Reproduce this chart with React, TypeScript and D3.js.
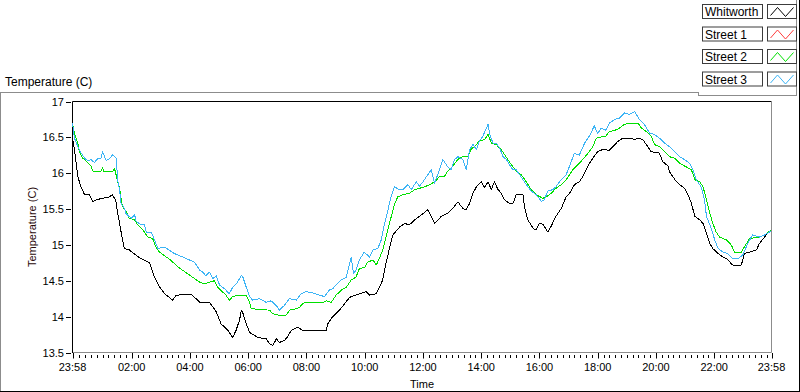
import React from 'react';
import * as d3 from 'd3';

// ---- data (minutes after 23:58, temperature °C) ----
const startTime = new Date(2000, 0, 1, 23, 58);
const endTime = new Date(2000, 0, 2, 23, 58);
const yTickValues = [13.5, 14, 14.5, 15, 15.5, 16, 16.5, 17];
const majorTickTimes = ['23:58', '02:00', '04:00', '06:00', '08:00', '10:00', '12:00', '14:00', '16:00', '18:00', '20:00', '22:00', '23:58'];
const seriesNames = ['Whitworth', 'Street 1', 'Street 2', 'Street 3'];
const seriesColors = ['#000000', '#ff3c3c', '#00e000', '#3cb4f5'];

const whitworth: [number, number][] = [
  [0, 16.5], [4, 16.33], [11, 15.95], [18, 15.8], [25, 15.7], [35, 15.7], [42, 15.6], [49, 15.63], [62, 15.65],
  [76, 15.67], [82, 15.7], [89, 15.62], [93, 15.45], [97, 15.3], [103, 15.07], [107, 14.95], [117, 14.93],
  [138, 14.82], [159, 14.75], [169, 14.55], [179, 14.42], [190, 14.32], [206, 14.23], [214, 14.3], [241, 14.31],
  [247, 14.3], [262, 14.2], [282, 14.2], [296, 14.07], [306, 13.9], [320, 13.81], [330, 13.71], [337, 13.81],
  [344, 13.95], [348, 14.09], [351, 14.05], [358, 13.9], [365, 13.78], [382, 13.71], [399, 13.69], [406, 13.62],
  [413, 13.6], [420, 13.69], [426, 13.64], [437, 13.67], [443, 13.72], [451, 13.81], [464, 13.85], [474, 13.81],
  [523, 13.81], [526, 13.9], [536, 14.0], [550, 14.09], [571, 14.27], [584, 14.3], [605, 14.35], [612, 14.3],
  [626, 14.32], [639, 14.51], [646, 14.75], [653, 14.95], [660, 15.14], [674, 15.25], [684, 15.3], [694, 15.28],
  [705, 15.35], [715, 15.4], [732, 15.49], [739, 15.4], [746, 15.3], [760, 15.4], [773, 15.44], [787, 15.54],
  [794, 15.6], [804, 15.51], [811, 15.49], [818, 15.58], [825, 15.72], [832, 15.81], [842, 15.88], [849, 15.8],
  [856, 15.88], [863, 15.77], [869, 15.88], [876, 15.78], [883, 15.72], [890, 15.63], [900, 15.58], [907, 15.57],
  [914, 15.7], [928, 15.7], [931, 15.54], [938, 15.35], [949, 15.23], [955, 15.21], [962, 15.3], [969, 15.29],
  [979, 15.18], [986, 15.26], [996, 15.4], [1007, 15.51], [1017, 15.67], [1024, 15.72], [1034, 15.84], [1044, 15.88],
  [1051, 15.95], [1058, 16.05], [1065, 16.14], [1072, 16.21], [1082, 16.3], [1092, 16.33], [1106, 16.32],
  [1113, 16.37], [1123, 16.44], [1134, 16.49], [1147, 16.49], [1158, 16.47], [1165, 16.49], [1175, 16.47],
  [1185, 16.37], [1192, 16.3], [1209, 16.28], [1216, 16.16], [1227, 16.1], [1230, 16.02], [1241, 15.91],
  [1251, 15.84], [1261, 15.79], [1268, 15.7], [1275, 15.58], [1282, 15.4], [1292, 15.35], [1299, 15.3],
  [1306, 15.16], [1313, 15.02], [1319, 14.95], [1330, 14.88], [1340, 14.83], [1347, 14.81], [1360, 14.72],
  [1378, 14.72], [1384, 14.88], [1395, 14.9], [1409, 14.93], [1415, 15.02], [1426, 15.11], [1433, 15.18], [1440, 15.2],
];

const street1: [number, number][] = [];

const street2: [number, number][] = [
  [0, 16.7], [4, 16.56], [11, 16.42], [14, 16.3], [21, 16.21], [28, 16.17], [38, 16.1], [42, 16.03], [59, 16.03],
  [62, 16.08], [64, 16.03], [83, 16.03], [86, 16.07], [88, 16.03], [93, 15.88], [97, 15.79], [100, 15.65],
  [103, 15.54], [110, 15.47], [117, 15.37], [128, 15.35], [134, 15.28], [145, 15.21], [155, 15.11], [165, 15.09],
  [172, 14.97], [179, 14.9], [200, 14.8], [220, 14.68], [241, 14.58], [262, 14.48], [272, 14.46], [282, 14.48],
  [292, 14.5], [299, 14.41], [310, 14.34], [316, 14.3], [323, 14.23], [330, 14.28], [344, 14.3], [358, 14.3],
  [365, 14.2], [368, 14.11], [389, 14.1], [406, 14.09], [413, 14.04], [426, 14.02], [440, 14.02], [447, 14.09],
  [461, 14.11], [468, 14.13], [474, 14.18], [481, 14.2], [516, 14.2], [523, 14.22], [533, 14.2], [543, 14.3],
  [554, 14.37], [564, 14.41], [574, 14.51], [584, 14.55], [591, 14.67], [602, 14.69], [608, 14.76], [619, 14.79],
  [626, 14.72], [632, 14.81], [639, 14.93], [646, 15.11], [653, 15.3], [663, 15.56], [670, 15.67], [680, 15.7],
  [694, 15.72], [705, 15.77], [715, 15.79], [725, 15.81], [736, 15.84], [746, 15.88], [756, 15.95], [766, 15.95],
  [773, 16.03], [780, 16.07], [790, 16.16], [797, 16.21], [804, 16.23], [814, 16.23], [821, 16.33], [832, 16.4],
  [838, 16.45], [849, 16.47], [856, 16.54], [863, 16.42], [873, 16.4], [883, 16.33], [893, 16.23], [904, 16.12],
  [914, 16.03], [924, 15.98], [935, 15.88], [945, 15.77], [955, 15.7], [969, 15.65], [976, 15.67], [986, 15.72],
  [996, 15.79], [1007, 15.84], [1017, 15.91], [1031, 16.05], [1041, 16.12], [1051, 16.19], [1062, 16.28],
  [1072, 16.37], [1079, 16.49], [1099, 16.52], [1106, 16.58], [1123, 16.61], [1137, 16.68], [1147, 16.7],
  [1165, 16.7], [1172, 16.63], [1182, 16.58], [1192, 16.52], [1199, 16.4], [1209, 16.37], [1220, 16.3],
  [1230, 16.23], [1240, 16.21], [1251, 16.14], [1261, 16.1], [1275, 16.05], [1282, 15.91], [1292, 15.88],
  [1299, 15.81], [1306, 15.63], [1313, 15.44], [1319, 15.3], [1326, 15.18], [1333, 15.11], [1347, 15.07],
  [1357, 15.0], [1364, 14.9], [1378, 14.9], [1384, 14.97], [1395, 15.09], [1415, 15.11], [1426, 15.14],
  [1433, 15.18], [1440, 15.2],
];

const street3: [number, number][] = [
  [0, 16.7], [4, 16.49], [11, 16.37], [18, 16.28], [25, 16.21], [32, 16.17], [38, 16.19], [45, 16.15], [52, 16.2],
  [59, 16.21], [62, 16.3], [69, 16.18], [76, 16.2], [83, 16.26], [90, 16.21], [93, 15.91], [97, 15.77], [100, 15.58],
  [107, 15.51], [110, 15.44], [121, 15.37], [128, 15.42], [131, 15.33], [141, 15.28], [148, 15.28], [152, 15.18],
  [162, 15.18], [169, 15.07], [176, 14.95], [190, 14.97], [210, 14.88], [231, 14.82], [251, 14.76], [262, 14.65],
  [268, 14.62], [275, 14.57], [282, 14.62], [289, 14.53], [296, 14.57], [303, 14.44], [313, 14.39], [323, 14.32],
  [330, 14.41], [340, 14.48], [348, 14.58], [351, 14.55], [358, 14.41], [365, 14.28], [371, 14.23], [385, 14.25],
  [399, 14.2], [409, 14.22], [416, 14.18], [423, 14.13], [426, 14.09], [437, 14.16], [447, 14.25], [461, 14.23],
  [471, 14.32], [481, 14.35], [495, 14.33], [509, 14.3], [519, 14.28], [529, 14.37], [536, 14.39], [543, 14.44],
  [553, 14.51], [564, 14.55], [574, 14.83], [579, 14.6], [584, 14.65], [591, 14.79], [601, 14.9], [612, 14.83],
  [619, 14.93], [629, 14.95], [636, 15.07], [643, 15.3], [650, 15.49], [656, 15.67], [663, 15.81], [674, 15.77],
  [680, 15.77], [691, 15.84], [698, 15.77], [708, 15.88], [715, 15.82], [722, 15.88], [729, 15.95], [739, 16.05],
  [746, 15.86], [756, 16.05], [763, 16.19], [773, 16.09], [780, 16.05], [787, 16.19], [794, 16.23], [804, 16.19],
  [811, 16.05], [818, 16.33], [825, 16.4], [832, 16.33], [838, 16.45], [845, 16.51], [856, 16.68], [859, 16.56],
  [866, 16.42], [873, 16.42], [880, 16.35], [887, 16.23], [894, 16.19], [900, 16.12], [907, 16.05], [914, 16.05],
  [924, 15.95], [935, 15.84], [945, 15.75], [955, 15.7], [966, 15.61], [972, 15.63], [979, 15.75], [989, 15.77],
  [996, 15.81], [1003, 15.88], [1017, 15.98], [1024, 16.1], [1034, 16.28], [1044, 16.25], [1055, 16.42],
  [1065, 16.52], [1075, 16.66], [1082, 16.55], [1089, 16.63], [1099, 16.6], [1106, 16.7], [1117, 16.75],
  [1127, 16.77], [1137, 16.84], [1147, 16.82], [1158, 16.86], [1168, 16.75], [1178, 16.68], [1189, 16.56],
  [1199, 16.54], [1209, 16.49], [1220, 16.42], [1230, 16.37], [1240, 16.3], [1251, 16.23], [1261, 16.19],
  [1271, 16.14], [1278, 16.05], [1285, 15.91], [1295, 15.81], [1302, 15.63], [1306, 15.4], [1316, 15.23],
  [1323, 15.07], [1330, 14.95], [1340, 14.9], [1350, 14.88], [1360, 14.81], [1371, 14.81], [1381, 14.86],
  [1391, 15.02], [1401, 15.14], [1415, 15.11], [1426, 15.14], [1436, 15.18], [1440, 15.2],
];

const seriesData = [whitworth, street1, street2, street3];

// ---- layout ----
const W = 800;
const H = 392;
const plotL = 72.5;
const plotR = 771.5;
const plotT = 101.5;
const plotB = 352.5;
const FONT = 'Liberation Sans, Arial, sans-serif';

const toDate = (m: number) => new Date(startTime.getTime() + m * 60000);

export default function App() {
  const x = d3.scaleTime().domain([startTime, endTime]).range([plotL, plotR]);
  const y = d3.scaleLinear().domain([13.5, 17]).range([plotB, plotT]);

  const line = d3
    .line<[number, number]>()
    .x((d) => x(toDate(d[0])))
    .y((d) => y(d[1]));

  const fmt = d3.timeFormat('%H:%M');
  const majorDates = majorTickTimes.map((_, i) =>
    i === 0 ? startTime : i === majorTickTimes.length - 1 ? endTime : new Date(2000, 0, 2, i * 2, 0)
  );
  const minorDates = d3.timeMinute
    .every(12)!
    .range(startTime, endTime)
    .filter((d) => majorDates.every((m) => Math.abs(x(m) - x(d)) > 2));

  const legendX = 702.5;
  const legendRowH = 22.5;

  return (
    <svg
      width={W}
      height={H}
      style={{ position: 'absolute', left: 0, top: 0, display: 'block', background: '#fff' }}
      fontFamily={FONT}
    >
      <rect x={0} y={0} width={W} height={H} fill="#fff" />
      {/* outer frame */}
      <line x1={0} y1={92.5} x2={698} y2={92.5} stroke="#8c8c8c" />
      <line x1={0.5} y1={92} x2={0.5} y2={391} stroke="#8c8c8c" />
      <line x1={0} y1={391.5} x2={800} y2={391.5} stroke="#000" />
      <line x1={799.5} y1={0} x2={799.5} y2={392} stroke="#000" />
      {/* legend frame */}
      <line x1={698.5} y1={92} x2={698.5} y2={96} stroke="#8c8c8c" />
      <line x1={698} y1={95.5} x2={797} y2={95.5} stroke="#8c8c8c" />
      <line x1={796.5} y1={0} x2={796.5} y2={96} stroke="#8c8c8c" />

      {/* graph title */}
      <text x={5} y={86} fontSize={12} fill="#000">
        Temperature (C)
      </text>

      {/* plot frame */}
      <line x1={plotL} y1={plotT} x2={plotR} y2={plotT} stroke="#000" />
      <line x1={plotR} y1={plotT} x2={plotR} y2={plotB} stroke="#8c8c8c" />
      <line x1={plotL} y1={plotB} x2={plotR} y2={plotB} stroke="#8c8c8c" />
      <line x1={plotL} y1={plotT} x2={plotL} y2={plotB + 0.5} stroke="#000" />

      {/* y axis */}
      {yTickValues.map((v) => (
        <g key={v}>
          <line x1={66} x2={71} y1={Math.round(y(v)) + 0.5} y2={Math.round(y(v)) + 0.5} stroke="#000" />
          <text x={64} y={y(v) + 4} fontSize={11} textAnchor="end" fill="#000">
            {v}
          </text>
        </g>
      ))}
      <text
        transform={`translate(36, ${(plotT + plotB) / 2}) rotate(-90)`}
        fontSize={11}
        textAnchor="middle"
        fill="#2a0a0a"
      >
        Temperature (C)
      </text>

      {/* x axis */}
      {minorDates.map((d, i) => (
        <line
          key={'m' + i}
          x1={Math.round(x(d)) + 0.5}
          x2={Math.round(x(d)) + 0.5}
          y1={355}
          y2={358}
          stroke="#000"
        />
      ))}
      {majorDates.map((d, i) => (
        <g key={'M' + i}>
          <line x1={Math.round(x(d)) + 0.5} x2={Math.round(x(d)) + 0.5} y1={353} y2={358.5} stroke="#000" />
          <text x={x(d)} y={371} fontSize={11} textAnchor="middle" fill="#000">
            {fmt(d)}
          </text>
        </g>
      ))}
      <text x={(plotL + plotR) / 2} y={388} fontSize={11} textAnchor="middle" fill="#000">
        Time
      </text>

      {/* series */}
      <g shapeRendering="crispEdges">
        {seriesData.map((s, i) =>
          s.length ? (
            <path
              key={seriesNames[i]}
              d={line(s) || ''}
              fill="none"
              stroke={seriesColors[i]}
              strokeWidth={1}
              strokeLinejoin="round"
            />
          ) : null
        )}
      </g>

      {/* legend */}
      {seriesNames.map((name, i) => {
        const top = 4.5 + i * legendRowH;
        const sx = 767.5;
        return (
          <g key={name}>
            <rect x={legendX} y={top} width={60} height={14} fill="#fff" stroke="#3c3c3c" />
            <text x={legendX + 2.5} y={top + 11.5} fontSize={12} fill="#000">
              {name}
            </text>
            <rect x={sx} y={top} width={29} height={14} fill="#fff" stroke="#3c3c3c" />
            <polyline
              points={`${sx + 3},${top + 11} ${sx + 10},${top + 3} ${sx + 18},${top + 12} ${sx + 26},${top + 3}`}
              fill="none"
              stroke={seriesColors[i]}
              strokeWidth={1}
            />
          </g>
        );
      })}
    </svg>
  );
}
